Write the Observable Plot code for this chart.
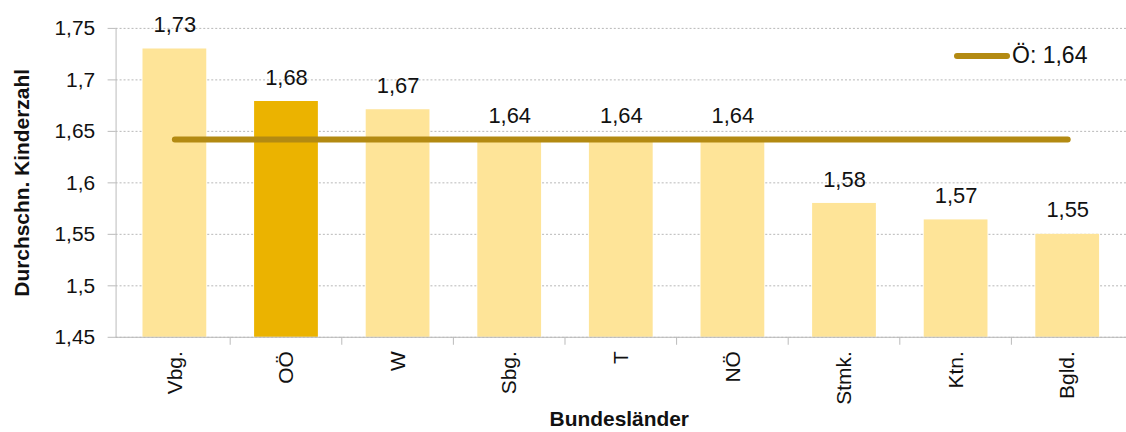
<!DOCTYPE html>
<html>
<head>
<meta charset="utf-8">
<script src="https://cdn.jsdelivr.net/npm/d3@7"></script>
<script src="https://cdn.jsdelivr.net/npm/@observablehq/plot@0.6"></script>
<style>
  html, body { margin: 0; padding: 0; background: #fff; overflow: hidden; }
  #wrap { position: relative; width: 1126px; height: 432px; overflow: hidden; font-family: "Liberation Sans", Arial, sans-serif; }
  #legend { position: absolute; left: 954px; top: 42px; display: flex; align-items: center; font-size: 23px; color: #111; }
  #legend .sw { width: 56px; height: 6px; border-radius: 3px; background: #b38a12; margin-right: 2px; }
</style>
</head>
<body>
<div id="wrap">
  <div id="chart"></div>
  <div id="legend"><span class="sw"></span><span>Ö: 1,64</span></div>
</div>
<script>
const categories = ["Vbg.", "OÖ", "W", "Sbg.", "T", "NÖ", "Stmk.", "Ktn.", "Bgld."];
const values = [1.73, 1.68, 1.67, 1.64, 1.64, 1.64, 1.58, 1.57, 1.55];
const barHeights = [1.73, 1.679, 1.671, 1.642, 1.642, 1.642, 1.58, 1.564, 1.55];
const average = 1.642;
const highlight = "OÖ";
const yTicks = [1.45, 1.5, 1.55, 1.6, 1.65, 1.7, 1.75];

const data = categories.map((c, i) => ({ c, v: values[i], h: barHeights[i] }));
const fmt = d => String(+d.toFixed(2)).replace(".", ",");

const chart = Plot.plot({
  width: 1130,
  height: 432,
  marginLeft: 116,
  marginRight: 0,
  marginTop: 28,
  marginBottom: 94,
  style: { fontFamily: "'Liberation Sans', Arial, sans-serif", background: "#fff", color: "#111" },
  x: { domain: categories, paddingInner: 0.43, paddingOuter: 0.215, label: null },
  y: { domain: [1.45, 1.75], label: null },
  marks: [
    Plot.gridY(yTicks, { stroke: "#999", strokeOpacity: 0.7, strokeDasharray: "2,2" }),
    Plot.barY(data, { x: "c", y1: 1.45, y2: "h", fill: d => d.c === highlight ? "#ebb300" : "#fee498" }),
    Plot.line(data, { x: "c", y: () => average, stroke: "#b38a12", strokeWidth: 6, strokeLinecap: "round" }),
    Plot.text(data, { x: "c", y: "h", text: d => fmt(d.v), lineAnchor: "bottom", dy: -17, fontSize: 22, fill: "#111" }),
    Plot.frame({ anchor: "left", stroke: "#bbb" }),
    Plot.ruleY([1.45], { stroke: "#bbb" }),
    Plot.axisY(yTicks, { tickFormat: fmt, tickSize: 8, tickPadding: 13, fontSize: 21, stroke: "#bbb", label: null }),
    Plot.axisX({ tickSize: 0, tickRotate: -90, tickPadding: 14, fontSize: 21, label: null }),
    Plot.text(["Durchschn. Kinderzahl"], { frameAnchor: "left", textAnchor: "middle", rotate: -90, dx: -94, fontWeight: "bold", fontSize: 21, fill: "#111" }),
    Plot.text(["Bundesländer"], { frameAnchor: "bottom", textAnchor: "middle", lineAnchor: "middle", dx: -2, dy: 82, fontWeight: "bold", fontSize: 21, fill: "#111" })
  ]
});

document.getElementById("chart").appendChild(chart);

// tick marks between the bands on the x axis
const xs = chart.scale("x");
const ys = chart.scale("y");
const svg = d3.select(chart);
const yBase = ys.apply(1.45);
const g = svg.append("g").attr("stroke", "#bbb");
categories.forEach((c, i) => {
  if (i === 0) return;
  const xb = xs.apply(c) - (xs.step - xs.bandwidth) / 2;
  g.append("line").attr("x1", xb).attr("x2", xb).attr("y1", yBase).attr("y2", yBase + 8);
});
</script>
</body>
</html>
